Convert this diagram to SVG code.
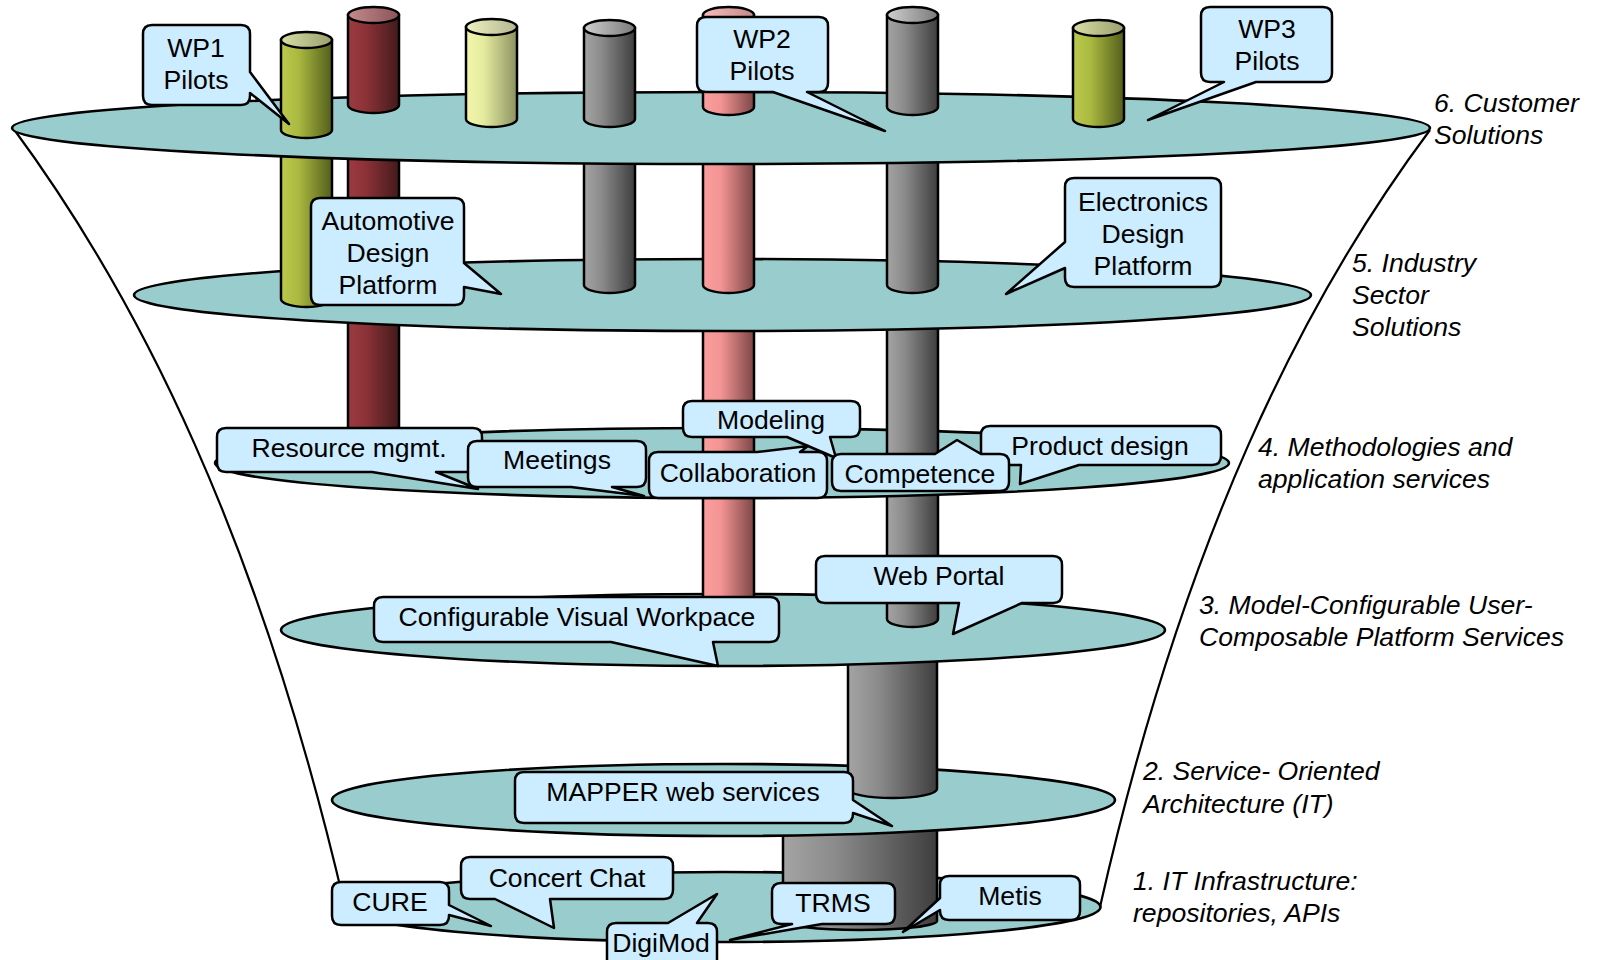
<svg xmlns="http://www.w3.org/2000/svg" width="1597" height="960" viewBox="0 0 1597 960">
  <style>
    .layer { fill: #99CCCC; stroke: #000; stroke-width: 2.6; }
    .bubble { fill: #CCECFF; stroke: #000; stroke-width: 2.5; stroke-linejoin: round; }
    .cyl { stroke: #000; stroke-width: 2.5; }
    .funnel { fill: none; stroke: #000; stroke-width: 2.2; }
    .lbl { font-family: "Liberation Sans", Arial, sans-serif; font-size: 26.6px; fill: #000; text-anchor: middle; }
    .side { font-family: "Liberation Sans", Arial, sans-serif; font-size: 26.6px; font-style: italic; fill: #000; }
    .olive { fill: url(#gOlive); } .oliveTop { fill: url(#gOliveTop); }
    .red { fill: url(#gRed); } .redTop { fill: url(#gRedTop); }
    .yellow { fill: url(#gYellow); } .yellowTop { fill: url(#gYellowTop); }
    .gray { fill: url(#gGray); } .grayTop { fill: url(#gGrayTop); }
    .pink { fill: url(#gPink); } .pinkTop { fill: url(#gPinkTop); }
  </style>
  <defs>
    <linearGradient id="gOlive" x1="0" y1="0" x2="1" y2="0"><stop offset="0" stop-color="#bccb4e"/><stop offset="0.35" stop-color="#a9b83f"/><stop offset="1" stop-color="#535e1c"/></linearGradient>
    <linearGradient id="gOliveTop" x1="0" y1="0" x2="1" y2="0"><stop offset="0" stop-color="#d8dea4"/><stop offset="1" stop-color="#9a9f6e"/></linearGradient>
    <linearGradient id="gRed" x1="0" y1="0" x2="1" y2="0"><stop offset="0" stop-color="#9b3b41"/><stop offset="0.35" stop-color="#8c3237"/><stop offset="1" stop-color="#431a1b"/></linearGradient>
    <linearGradient id="gRedTop" x1="0" y1="0" x2="1" y2="0"><stop offset="0" stop-color="#c48a8e"/><stop offset="1" stop-color="#8a5558"/></linearGradient>
    <linearGradient id="gYellow" x1="0" y1="0" x2="1" y2="0"><stop offset="0" stop-color="#f2f6ac"/><stop offset="0.35" stop-color="#e4eb9e"/><stop offset="1" stop-color="#8c9262"/></linearGradient>
    <linearGradient id="gYellowTop" x1="0" y1="0" x2="1" y2="0"><stop offset="0" stop-color="#eef2c0"/><stop offset="1" stop-color="#b4b690"/></linearGradient>
    <linearGradient id="gGray" x1="0" y1="0" x2="1" y2="0"><stop offset="0" stop-color="#a4a4a4"/><stop offset="0.35" stop-color="#8a8a8a"/><stop offset="1" stop-color="#3e3e3e"/></linearGradient>
    <linearGradient id="gGrayTop" x1="0" y1="0" x2="1" y2="0"><stop offset="0" stop-color="#cfcfcf"/><stop offset="1" stop-color="#7a7a7a"/></linearGradient>
    <linearGradient id="gPink" x1="0" y1="0" x2="1" y2="0"><stop offset="0" stop-color="#fa9e9e"/><stop offset="0.35" stop-color="#f39494"/><stop offset="1" stop-color="#7c4646"/></linearGradient>
    <linearGradient id="gPinkTop" x1="0" y1="0" x2="1" y2="0"><stop offset="0" stop-color="#f6bcbc"/><stop offset="1" stop-color="#c48a8a"/></linearGradient>
  </defs>

  <rect width="1597" height="960" fill="#fff"/>

  <!-- funnel outline -->
  <g id="funnel">
    <path class="funnel" d="M13,128 C140,300 260,540 345,907"/>
    <path class="funnel" d="M1430,130 C1303,300 1183,540 1100,907"/>
  </g>

  <!-- level 1: IT infrastructure -->
  <g id="layer1">
    <ellipse class="layer" cx="722.5" cy="907" rx="378" ry="35"/>
    <path id="cyl-base-low" class="cyl gray" d="M783,800 V921 A77,9 0 0 0 937,921 V800 Z"/>
  </g>
  <g id="cure"><path class="bubble" d="M341,882 H440 Q449,882 449,891 V905 L491,926 L449,915 V916 Q449,925 440,925 H341 Q332,925 332,916 V891 Q332,882 341,882 Z"/><text class="lbl" x="390" y="911">CURE</text></g>
  <g id="concert-chat"><path class="bubble" d="M470,857 H664 Q673,857 673,866 V890 Q673,899 664,899 H550 L554,928 L495,899 H470 Q461,899 461,890 V866 Q461,857 470,857 Z"/><text class="lbl" x="567" y="887">Concert Chat</text></g>
  <g id="digimod"><path class="bubble" d="M616,923 H668 L717,894 L697,923 H708 Q717,923 717,932 V975 H607 V932 Q607,923 616,923 Z"/><text class="lbl" x="661" y="952">DigiMod</text></g>
  <g id="trms"><path class="bubble" d="M781,883 H886 Q895,883 895,892 V915 Q895,924 886,924 H822 L730,940 L792,924 H781 Q772,924 772,915 V892 Q772,883 781,883 Z"/><text class="lbl" x="833" y="912">TRMS</text></g>
  <g id="metis"><path class="bubble" d="M949,876 H1071 Q1080,876 1080,885 V911 Q1080,920 1071,920 H949 Q940,920 940,911 V910 L903,932 L940,898 V885 Q940,876 949,876 Z"/><text class="lbl" x="1010" y="905">Metis</text></g>

  <!-- level 2: service-oriented architecture -->
  <g id="layer2">
    <ellipse class="layer" cx="723.5" cy="800" rx="391.5" ry="36"/>
    <path id="cyl-base-mid" class="cyl gray" d="M848,630 V789 A44.5,9 0 0 0 937,789 V630 Z"/>
  </g>
  <g id="mapper"><path class="bubble" d="M524,772 H844 Q853,772 853,781 V800 L892,826 L853,813 V814 Q853,823 844,823 H524 Q515,823 515,814 V781 Q515,772 524,772 Z"/><text class="lbl" x="683" y="801">MAPPER web services</text></g>

  <!-- level 3: platform services -->
  <g id="layer3">
    <ellipse class="layer" cx="723" cy="630" rx="442" ry="36"/>
    <path class="cyl pink" d="M703,463 V620 A25.5,8 0 0 0 754,620 V463 Z"/>
    <path class="cyl gray" d="M887,463 V619 A25.5,8 0 0 0 938,619 V463 Z"/>
  </g>
  <g id="visual-workpace"><path class="bubble" d="M383,597 H770 Q779,597 779,606 V633 Q779,642 770,642 H713 L718,666 L611,642 H383 Q374,642 374,633 V606 Q374,597 383,597 Z"/><text class="lbl" x="577" y="626">Configurable Visual Workpace</text></g>
  <g id="web-portal"><path class="bubble" d="M825,556 H1053 Q1062,556 1062,565 V594 Q1062,603 1053,603 H1022 L953,634 L959,603 H825 Q816,603 816,594 V565 Q816,556 825,556 Z"/><text class="lbl" x="939" y="585">Web Portal</text></g>

  <!-- level 4: methodologies and application services -->
  <g id="layer4">
    <ellipse class="layer" cx="722" cy="463" rx="507" ry="35"/>
    <path class="cyl red" d="M348,295 V452 A25.5,8 0 0 0 399,452 V295 Z"/>
    <path class="cyl pink" d="M703,295 V458 A25.5,8 0 0 0 754,458 V295 Z"/>
    <path class="cyl gray" d="M887,295 V460 A25.5,8 0 0 0 938,460 V295 Z"/>
  </g>
  <g id="resource-mgmt"><path class="bubble" d="M226,428 H473 Q482,428 482,437 V463 Q482,472 473,472 H436 L478,489 L372,472 H226 Q217,472 217,463 V437 Q217,428 226,428 Z"/><text class="lbl" x="349" y="457">Resource mgmt.</text></g>
  <g id="meetings"><path class="bubble" d="M477,441 H637 Q646,441 646,450 V478 Q646,487 637,487 H612 L644,496 L571,487 H477 Q468,487 468,478 V450 Q468,441 477,441 Z"/><text class="lbl" x="557" y="469">Meetings</text></g>
  <g id="modeling"><path class="bubble" d="M692,401 H851 Q860,401 860,410 V428 Q860,437 851,437 H830 L836,458 L787,437 H692 Q683,437 683,428 V410 Q683,401 692,401 Z"/><text class="lbl" x="771" y="429">Modeling</text></g>
  <g id="collaboration"><path class="bubble" d="M658,452 H757 L808,446 L800,452 H818 Q827,452 827,461 V489 Q827,498 818,498 H658 Q649,498 649,489 V461 Q649,452 658,452 Z"/><text class="lbl" x="738" y="482">Collaboration</text></g>
  <g id="product-design"><path class="bubble" d="M990,426 H1212 Q1221,426 1221,435 V456 Q1221,465 1212,465 H1079 L1020,484 L1021,465 H990 Q981,465 981,456 V435 Q981,426 990,426 Z"/><text class="lbl" x="1100" y="455">Product design</text></g>
  <g id="competence"><path class="bubble" d="M841,454 H935 L957,440 L981,454 H1000 Q1009,454 1009,463 V482 Q1009,491 1000,491 H841 Q832,491 832,482 V463 Q832,454 841,454 Z"/><text class="lbl" x="920" y="483">Competence</text></g>

  <!-- level 5: industry sector solutions -->
  <g id="layer5">
    <ellipse class="layer" cx="722.5" cy="295" rx="588.5" ry="36"/>
    <path class="cyl olive" d="M281,128 V299 A25.5,8 0 0 0 332,299 V128 Z"/>
    <path class="cyl red" d="M348,128 V290 A25.5,8 0 0 0 399,290 V128 Z"/>
    <path class="cyl gray" d="M584,128 V285 A25.5,8 0 0 0 635,285 V128 Z"/>
    <path class="cyl pink" d="M703,128 V285 A25.5,8 0 0 0 754,285 V128 Z"/>
    <path class="cyl gray" d="M887,128 V285 A25.5,8 0 0 0 938,285 V128 Z"/>
  </g>
  <g id="automotive"><path class="bubble" d="M320,198 H455 Q464,198 464,207 V263 L501,294 L464,287 V296 Q464,305 455,305 H320 Q311,305 311,296 V207 Q311,198 320,198 Z"/><text class="lbl" x="388" y="230">Automotive</text><text class="lbl" x="388" y="262">Design</text><text class="lbl" x="388" y="294">Platform</text></g>
  <g id="electronics"><path class="bubble" d="M1074,178 H1212 Q1221,178 1221,187 V278 Q1221,287 1212,287 H1074 Q1065,287 1065,278 V268 L1006,294 L1065,242 V187 Q1065,178 1074,178 Z"/><text class="lbl" x="1143" y="211">Electronics</text><text class="lbl" x="1143" y="243">Design</text><text class="lbl" x="1143" y="275">Platform</text></g>

  <!-- level 6: customer solutions (pilots) -->
  <g id="layer6">
    <ellipse class="layer" cx="721" cy="128" rx="709" ry="36"/>
    <g id="pilot-olive-1"><path class="cyl olive" d="M281,40 V130 A25.5,8 0 0 0 332,130 V40 Z"/><ellipse class="cyl oliveTop" cx="306.5" cy="40" rx="25.5" ry="8"/></g>
    <g id="pilot-red"><path class="cyl red" d="M348,15 V105 A25.5,8 0 0 0 399,105 V15 Z"/><ellipse class="cyl redTop" cx="373.5" cy="15" rx="25.5" ry="8"/></g>
    <g id="pilot-yellow"><path class="cyl yellow" d="M466,27 V119 A25.5,8 0 0 0 517,119 V27 Z"/><ellipse class="cyl yellowTop" cx="491.5" cy="27" rx="25.5" ry="8"/></g>
    <g id="pilot-gray-1"><path class="cyl gray" d="M584,28 V119 A25.5,8 0 0 0 635,119 V28 Z"/><ellipse class="cyl grayTop" cx="609.5" cy="28" rx="25.5" ry="8"/></g>
    <g id="pilot-pink"><path class="cyl pink" d="M703,15 V107 A25.5,8 0 0 0 754,107 V15 Z"/><ellipse class="cyl pinkTop" cx="728.5" cy="15" rx="25.5" ry="8"/></g>
    <g id="pilot-gray-2"><path class="cyl gray" d="M887,15 V107 A25.5,8 0 0 0 938,107 V15 Z"/><ellipse class="cyl grayTop" cx="912.5" cy="15" rx="25.5" ry="8"/></g>
    <g id="pilot-olive-2"><path class="cyl olive" d="M1073,28 V119 A25.5,8 0 0 0 1124,119 V28 Z"/><ellipse class="cyl oliveTop" cx="1098.5" cy="28" rx="25.5" ry="8"/></g>
  </g>
  <g id="wp1"><path class="bubble" d="M152,25 H241 Q250,25 250,34 V72 L289,124 L250,93 V96 Q250,105 241,105 H152 Q143,105 143,96 V34 Q143,25 152,25 Z"/><text class="lbl" x="196" y="57">WP1</text><text class="lbl" x="196" y="89">Pilots</text></g>
  <g id="wp2"><path class="bubble" d="M706,17 H819 Q828,17 828,26 V83 Q828,92 819,92 H807 L885,131 L773,92 H706 Q697,92 697,83 V26 Q697,17 706,17 Z"/><text class="lbl" x="762" y="48">WP2</text><text class="lbl" x="762" y="80">Pilots</text></g>
  <g id="wp3"><path class="bubble" d="M1210,7 H1323 Q1332,7 1332,16 V73 Q1332,82 1323,82 H1256 L1148,120 L1224,82 H1210 Q1201,82 1201,73 V16 Q1201,7 1210,7 Z"/><text class="lbl" x="1267" y="38">WP3</text><text class="lbl" x="1267" y="70">Pilots</text></g>

  <!-- level captions -->
  <g id="captions">
    <text class="side" x="1434" y="112">6. Customer</text>
    <text class="side" x="1434" y="144">Solutions</text>
    <text class="side" x="1352" y="272">5. Industry</text>
    <text class="side" x="1352" y="304">Sector</text>
    <text class="side" x="1352" y="336">Solutions</text>
    <text class="side" x="1258" y="456">4. Methodologies and</text>
    <text class="side" x="1258" y="488">application services</text>
    <text class="side" x="1199" y="614">3. Model-Configurable User-</text>
    <text class="side" x="1199" y="646">Composable Platform Services</text>
    <text class="side" x="1143" y="780">2. Service- Oriented</text>
    <text class="side" x="1143" y="813">Architecture (IT)</text>
    <text class="side" x="1133" y="890">1. IT Infrastructure:</text>
    <text class="side" x="1133" y="922">repositories, APIs</text>
  </g>
</svg>
